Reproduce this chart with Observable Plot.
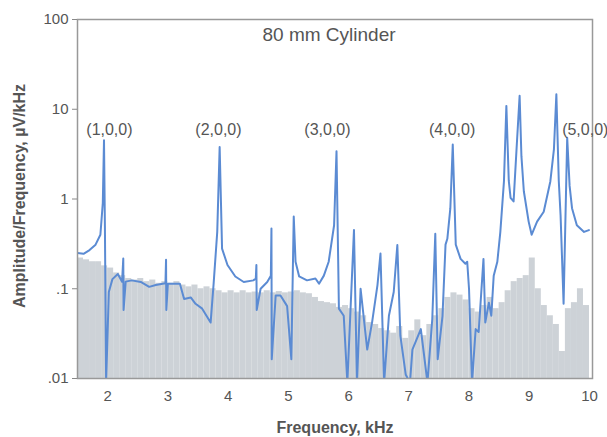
<!DOCTYPE html>
<html>
<head>
<meta charset="utf-8">
<script src="https://cdn.jsdelivr.net/npm/d3@7"></script>
<script src="https://cdn.jsdelivr.net/npm/@observablehq/plot@0.6"></script>
<style>
  html, body { margin: 0; padding: 0; background: #fff; }
</style>
</head>
<body>
<div id="chart"></div>
<script>
// Blue line: measured spectrum (frequency in kHz, amplitude/frequency in µV/kHz)
const lineFreq = [1.50, 1.60, 1.70, 1.80, 1.88, 1.92, 1.94, 1.955, 1.975, 2.02, 2.08, 2.17, 2.24, 2.26, 2.265, 2.30, 2.40, 2.55, 2.69, 2.80, 2.96, 2.97, 2.975, 3.00, 3.20, 3.27, 3.38, 3.46, 3.57, 3.71, 3.76, 3.82, 3.86, 3.90, 3.99, 4.12, 4.26, 4.42, 4.46, 4.47, 4.475, 4.54, 4.65, 4.71, 4.72, 4.725, 4.79, 4.87, 4.98, 5.05, 5.09, 5.12, 5.18, 5.31, 5.45, 5.51, 5.59, 5.67, 5.76, 5.80, 5.84, 5.92, 5.98, 6.09, 6.14, 6.20, 6.31, 6.39, 6.48, 6.53, 6.59, 6.67, 6.75, 6.81, 6.86, 6.95, 7.02, 7.06, 7.20, 7.31, 7.39, 7.44, 7.48, 7.56, 7.61, 7.64, 7.69, 7.73, 7.78, 7.86, 7.94, 7.97, 8.00, 8.05, 8.11, 8.16, 8.24, 8.27, 8.33, 8.37, 8.41, 8.47, 8.52, 8.58, 8.62, 8.66, 8.69, 8.74, 8.79, 8.84, 8.87, 8.91, 8.99, 9.04, 9.13, 9.24, 9.35, 9.41, 9.45, 9.49, 9.52, 9.57, 9.63, 9.67, 9.71, 9.79, 9.91, 9.99];
const lineAmp  = [0.25, 0.245, 0.27, 0.31, 0.40, 0.9, 4.5, 0.5, 0.009, 0.092, 0.128, 0.146, 0.12, 0.217, 0.058, 0.12, 0.124, 0.119, 0.105, 0.11, 0.115, 0.21, 0.058, 0.114, 0.114, 0.077, 0.080, 0.068, 0.060, 0.042, 0.114, 0.43, 3.8, 0.28, 0.184, 0.137, 0.119, 0.124, 0.13, 0.184, 0.058, 0.10, 0.119, 0.14, 0.47, 0.0164, 0.084, 0.084, 0.064, 0.0164, 0.637, 0.2, 0.137, 0.124, 0.13, 0.114, 0.14, 0.2, 0.51, 3.4, 0.06, 0.05, 0.009, 0.45, 0.009, 0.1, 0.021, 0.042, 0.11, 0.247, 0.009, 0.05, 0.092, 0.307, 0.030, 0.011, 0.009, 0.021, 0.0355, 0.009, 0.046, 0.41, 0.0164, 0.05, 0.31, 0.36, 0.79, 4.05, 0.31, 0.215, 0.19, 0.2, 0.1, 0.009, 0.0355, 0.033, 0.215, 0.042, 0.07, 0.05, 0.14, 0.2, 0.43, 1.57, 10.9, 1.6, 1.03, 0.94, 3.7, 14.1, 3.0, 1.22, 0.56, 0.40, 0.56, 0.72, 1.57, 3.6, 14.7, 1.6, 0.66, 0.068, 4.8, 1.4, 0.79, 0.51, 0.43, 0.45];

// Gray bars: background noise spectrum, bins of 0.1 kHz (centres)
const noiseFreq = [1.55, 1.65, 1.75, 1.85, 1.95, 2.05, 2.15, 2.25, 2.35, 2.45, 2.55, 2.65, 2.75, 2.85, 2.95, 3.05, 3.15, 3.25, 3.35, 3.45, 3.55, 3.65, 3.75, 3.85, 3.95, 4.05, 4.15, 4.25, 4.35, 4.45, 4.55, 4.65, 4.75, 4.85, 4.95, 5.05, 5.15, 5.25, 5.35, 5.45, 5.55, 5.65, 5.75, 5.85, 5.95, 6.05, 6.15, 6.25, 6.35, 6.45, 6.55, 6.65, 6.75, 6.85, 6.95, 7.05, 7.15, 7.25, 7.35, 7.45, 7.55, 7.65, 7.75, 7.85, 7.95, 8.05, 8.15, 8.25, 8.35, 8.45, 8.55, 8.65, 8.75, 8.85, 8.95, 9.05, 9.15, 9.25, 9.35, 9.45, 9.55, 9.65, 9.75, 9.85, 9.95];
const noiseAmp  = [0.22, 0.21, 0.2, 0.2, 0.18, 0.17, 0.15, 0.14, 0.13, 0.125, 0.13, 0.12, 0.125, 0.115, 0.12, 0.115, 0.12, 0.11, 0.105, 0.11, 0.1, 0.105, 0.1, 0.095, 0.09, 0.095, 0.09, 0.095, 0.09, 0.092, 0.09, 0.095, 0.09, 0.093, 0.09, 0.092, 0.095, 0.09, 0.088, 0.08, 0.072, 0.07, 0.068, 0.062, 0.065, 0.06, 0.055, 0.05, 0.042, 0.04, 0.036, 0.034, 0.032, 0.038, 0.028, 0.034, 0.045, 0.03, 0.04, 0.05, 0.06, 0.08, 0.09, 0.085, 0.075, 0.06, 0.055, 0.065, 0.08, 0.06, 0.07, 0.095, 0.12, 0.13, 0.14, 0.22, 0.1, 0.065, 0.05, 0.04, 0.02, 0.06, 0.07, 0.1, 0.065];
const noiseBinWidth = 0.1;

// Mode annotations
const modeLabels = ["(1,0,0)", "(2,0,0)", "(3,0,0)", "(4,0,0)", "(5,0,0)"];
const modeFreq   = [2.03, 3.84, 5.65, 7.72, 9.93];

// Axes
const xTicks = [2, 3, 4, 5, 6, 7, 8, 9, 10];
const yTicks = [0.01, 0.1, 1, 10, 100];
const yTickLabels = [".01", ".1", "1", "10", "100"];

const chartTitle = "80 mm Cylinder";
const xLabel = "Frequency, kHz";
const yLabel = "Amplitude/Frequency, µV/kHz";

const lineData = lineFreq.map((f, i) => ({f, a: lineAmp[i]}));
const noiseData = noiseFreq.map((f, i) => ({f, a: noiseAmp[i]}));
const modeData = modeLabels.map((label, i) => ({label, f: modeFreq[i]}));

const textColor = "#555";

const chart = Plot.plot({
  width: 607,
  height: 437,
  marginLeft: 77,
  marginRight: 15,
  marginTop: 19,
  marginBottom: 59,
  style: {fontFamily: "'Liberation Sans', Arial, sans-serif", background: "#fff"},
  x: {domain: [1.5, 10.05]},
  y: {type: "log", domain: [0.01, 100]},
  marks: [
    Plot.rectY(noiseData, {
      x1: d => d.f - noiseBinWidth / 2,
      x2: d => d.f + noiseBinWidth / 2,
      y1: 0.01,
      y2: "a",
      fill: "#cdd2d7",
      inset: 0,
      clip: true
    }),
    Plot.line(lineData, {x: "f", y: "a", stroke: "#5b8bd3", strokeWidth: 2, clip: true}),
    Plot.frame({stroke: "#999", strokeWidth: 1.5}),
    Plot.axisY(yTicks, {
      tickFormat: d => yTickLabels[yTicks.indexOf(d)],
      tickSize: 5, tickPadding: 4, fontSize: 15, color: textColor, stroke: "#888", label: null
    }),
    Plot.axisX(xTicks, {
      tickSize: 0, tickPadding: 12, fontSize: 15, color: textColor, label: null
    }),
    Plot.text(modeData, {x: "f", y: 5.9, text: "label", fontSize: 16, fill: textColor}),
    Plot.text([chartTitle], {frameAnchor: "top", dx: -6, dy: 8, text: d => d, fontSize: 19, fill: textColor}),
    Plot.text([xLabel], {frameAnchor: "bottom", lineAnchor: "middle", dy: 49, text: d => d, fontSize: 16, fontWeight: "bold", fill: textColor}),
    Plot.text([yLabel], {frameAnchor: "left", textAnchor: "middle", lineAnchor: "middle", rotate: -90, dx: -58, dy: -3, text: d => d, fontSize: 16, fontWeight: "bold", fill: textColor})
  ]
});

document.getElementById("chart").appendChild(chart);
</script>
</body>
</html>
